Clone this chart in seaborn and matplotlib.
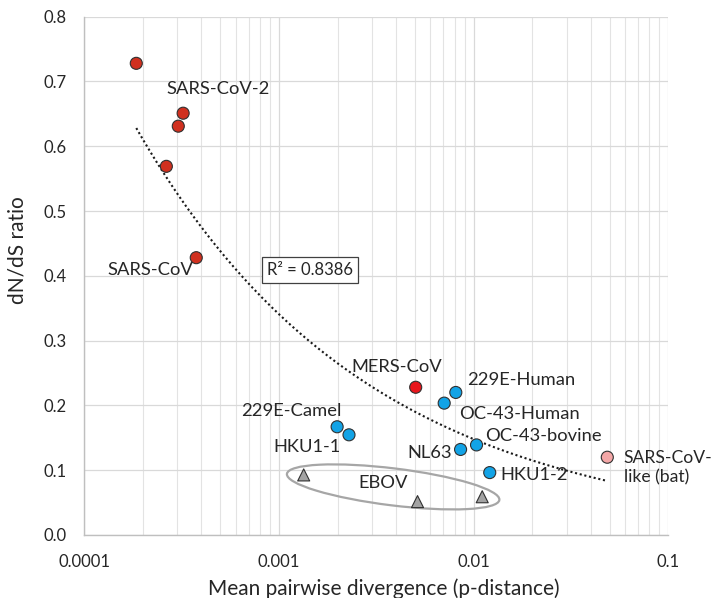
import numpy as np
import pandas as pd
import matplotlib
matplotlib.use("Agg")
import matplotlib.pyplot as plt
import seaborn as sns
from matplotlib.patches import Ellipse
from matplotlib.transforms import ScaledTranslation

# ---------------- data ----------------
virus = ["SARS-CoV-2 a", "SARS-CoV-2 b", "SARS-CoV-2 c", "SARS-CoV-2 d", "SARS-CoV",
         "MERS-CoV", "229E-Human", "OC-43-Human", "229E-Camel", "HKU1-1",
         "OC-43-bovine", "NL63", "HKU1-2", "SARS-CoV-like (bat)",
         "EBOV a", "EBOV b", "EBOV c"]
divergence = [1.85e-4, 3.22e-4, 3.04e-4, 2.64e-4, 3.76e-4,
              5.04e-3, 8.1e-3, 7.06e-3, 1.99e-3, 2.29e-3,
              1.035e-2, 8.57e-3, 1.21e-2, 4.86e-2,
              1.34e-3, 5.15e-3, 1.107e-2]
dnds = [0.728, 0.651, 0.631, 0.569, 0.428,
        0.228, 0.220, 0.2035, 0.167, 0.1546,
        0.139, 0.132, 0.0963, 0.120,
        0.0927, 0.0515, 0.059]
group = ["SARS"] * 5 + ["MERS"] + ["Endemic"] * 7 + ["Bat"] + ["EBOV"] * 3
kind = ["CoV"] * 14 + ["EBOV"] * 3

x_ticks = [1e-4, 1e-3, 1e-2, 1e-1]
x_tick_labels = ["0.0001", "0.001", "0.01", "0.1"]
y_ticks = [0.0, 0.1, 0.2, 0.3, 0.4, 0.5, 0.6, 0.7, 0.8]
y_tick_labels = ["0.0", "0.1", "0.2", "0.3", "0.4", "0.5", "0.6", "0.7", "0.8"]
r2_text = "R² = 0.8386"

df = pd.DataFrame({"virus": virus, "divergence": divergence, "dnds": dnds,
                   "group": group, "kind": kind})

# ---------------- style ----------------
sns.set_theme(style="whitegrid")
plt.rcParams["font.family"] = ["Lato", "DejaVu Sans"]
plt.rcParams["text.color"] = "#262626"

palette = {"SARS": "#d0301f", "MERS": "#e8151c", "Endemic": "#12a3e6",
           "Bat": "#f4a7a7", "EBOV": "#a3a3a3"}
markers = {"CoV": "o", "EBOV": "^"}

fig = plt.figure(figsize=(7.13, 5.98), dpi=100)
ax = fig.add_axes([0.1182, 0.1054, 0.8191, 0.8667])

sns.scatterplot(data=df, x="divergence", y="dnds", hue="group", style="kind",
                palette=palette, markers=markers, s=75, edgecolor="#303030",
                linewidth=0.8, legend=False, ax=ax, zorder=4)

# power-law trendline fitted on the coronavirus points
cov = df[df["kind"] == "CoV"]
b, loga = np.polyfit(np.log10(cov["divergence"]), np.log10(cov["dnds"]), 1)
xs = np.logspace(np.log10(cov["divergence"].min()), np.log10(cov["divergence"].max()), 200)
ax.plot(xs, 10 ** loga * xs ** b, linestyle=(0, (1, 1.3)), color="#1a1a1a",
        linewidth=1.5, zorder=3)

# ellipse around EBOV points (drawn in screen space, centred in data space)
ell_center = (3.86e-3, 0.0742)
trans = fig.dpi_scale_trans + ScaledTranslation(ell_center[0], ell_center[1], ax.transData)
ell = Ellipse((0, 0), width=2.14, height=0.37, angle=-7, transform=trans,
              fill=False, edgecolor="#a6a6a6", linewidth=1.6, zorder=2)
ax.add_patch(ell)

# axes
ax.set_xscale("log")
ax.set_xlim(1e-4, 0.1)
ax.set_ylim(0, 0.8)
ax.set_xticks(x_ticks)
ax.set_xticklabels(x_tick_labels)
ax.set_yticks(y_ticks)
ax.set_yticklabels(y_tick_labels)
ax.xaxis.set_minor_locator(matplotlib.ticker.LogLocator(base=10, subs=np.arange(2, 10)))
ax.xaxis.set_minor_formatter(matplotlib.ticker.NullFormatter())
ax.grid(which="major", color="#d9d9d9", linewidth=0.9)
ax.grid(which="minor", axis="x", color="#e3e3e3", linewidth=0.8)
ax.set_axisbelow(True)
for s in ["top", "right"]:
    ax.spines[s].set_visible(False)
for s in ["left", "bottom"]:
    ax.spines[s].set_color("#bfbfbf")
    ax.spines[s].set_linewidth(1.0)
ax.tick_params(axis="both", which="major", length=5, width=1.0, color="#bfbfbf",
               labelsize=12, labelcolor="#262626")
ax.tick_params(axis="y", pad=8)
ax.tick_params(axis="x", pad=9)
ax.tick_params(axis="x", which="minor", length=0)

ax.set_xlabel("Mean pairwise divergence (p-distance)", fontsize=15, color="#262626")
ax.set_ylabel("dN/dS ratio", fontsize=15, color="#262626")
ax.xaxis.set_label_coords(0.513, -0.104)
ax.yaxis.set_label_coords(-0.1135, 0.55)
ax.xaxis.label.set_va("center")
ax.yaxis.label.set_va("center")

# labels
fs = 13.2
lab = dict(fontsize=fs, color="#262626", va="center", zorder=5)
ax.text(2.63e-4, 0.688, "SARS-CoV-2", ha="left", **lab)
ax.text(1.31e-4, 0.4095, "SARS-CoV", ha="left", **lab)
ax.text(4.03e-3, 0.260, "MERS-CoV", ha="center", **lab)
ax.text(9.24e-3, 0.2396, "229E-Human", ha="left", **lab)
ax.text(8.4e-3, 0.187, "OC-43-Human", ha="left", **lab)
ax.text(2.107e-3, 0.1906, "229E-Camel", ha="right", **lab)
ax.text(2.08e-3, 0.136, "HKU1-1", ha="right", **lab)
ax.text(1.144e-2, 0.1530, "OC-43-bovine", ha="left", **lab)
ax.text(7.74e-3, 0.127, "NL63", ha="right", **lab)
ax.text(1.376e-2, 0.0927, "HKU1-2", ha="left", **lab)
ax.text(3.42e-3, 0.0799, "EBOV", ha="center", **lab)
ax.text(5.9e-2, 0.1045, "SARS-CoV-\nlike (bat)", ha="left", linespacing=1.25,
        fontsize=12.6, color="#262626", va="center", zorder=5)
ax.text(1.443e-3, 0.4096, r2_text, ha="center", va="center", fontsize=12,
        color="#262626", zorder=5,
        bbox=dict(boxstyle="square,pad=0.3", facecolor="white", edgecolor="#404040",
                  linewidth=0.9))

fig.savefig("out.png", dpi=100)
